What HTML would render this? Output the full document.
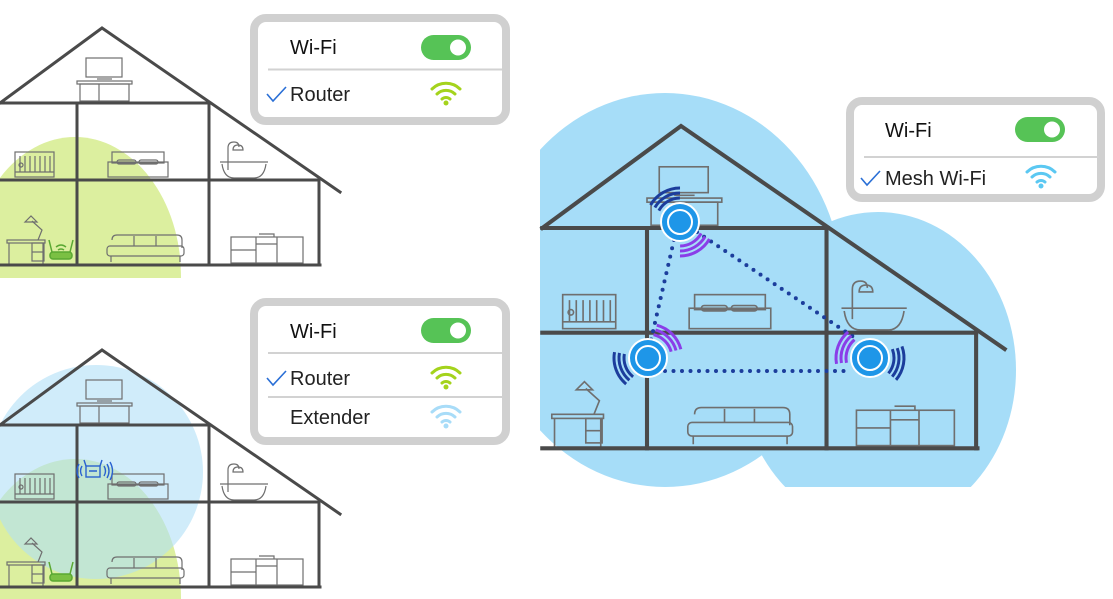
<!DOCTYPE html>
<html><head><meta charset="utf-8"><style>
html,body{margin:0;padding:0;background:#fff;width:1113px;height:599px;overflow:hidden;}
svg{display:block;overflow:hidden;font-family:"Liberation Sans","DejaVu Sans",sans-serif;}
</style></head><body>
<svg width="1113" height="599" viewBox="0 0 1113 599" xmlns="http://www.w3.org/2000/svg">
<defs>
  <clipPath id="c1"><rect x="0" y="0" width="400" height="278"/></clipPath>
  <clipPath id="c2"><rect x="0" y="300" width="400" height="299"/></clipPath>
  <clipPath id="c3"><rect x="540" y="0" width="573" height="487"/></clipPath>
  <g id="furn" fill="none" stroke="#6f6f6f" stroke-width="1.2">
    <rect x="86" y="58" width="36" height="19"/>
    <line x1="97" y1="79" x2="112" y2="79"/>
    <rect x="77" y="81" width="55" height="3"/>
    <rect x="80" y="84" width="49" height="17"/>
    <line x1="99" y1="84" x2="99" y2="101"/>
    <rect x="15" y="152" width="39" height="25"/>
    <path d="M20 156v16M25 156v16M30 156v16M35 156v16M40 156v16M45 156v16M50 156v16M15 172h39"/>
    <circle cx="21" cy="165" r="2"/>
    <rect x="112" y="152" width="52" height="11"/>
    <rect x="108" y="162" width="60" height="15"/>
    <rect x="117" y="160" width="19" height="4" rx="2"/>
    <rect x="139" y="160" width="19" height="4" rx="2"/>
    <path d="M220 162h48M222 164q2 14 12 14h20q10 0 12-14"/>
    <path d="M228 170v-22q0-6 6-6q5 0 5 5"/>
    <path d="M233 150h10q0-5-5-5q-5 0-5 5z"/>
    <rect x="7" y="240" width="38" height="3"/>
    <path d="M9 243v21M43 243v21"/>
    <rect x="32" y="243" width="12" height="18"/>
    <path d="M32 252h12"/>
    <path d="M38 240l4-10l-10-9"/>
    <path d="M25 222l6-6l6 6z"/>
    <path d="M112 240q0-5 5-5h60q5 0 5 5v8"/>
    <rect x="107" y="246" width="77" height="10" rx="3"/>
    <path d="M111 256v6M180 256v6M134 236v10M156 236v10"/>
    <rect x="231" y="237" width="72" height="26"/>
    <path d="M256 237v26M277 237v26M231 250h25M256 244h21M259 234h15v3"/>
  </g>
  <g id="house" fill="none" stroke="#4a4a4a" stroke-width="3" stroke-linecap="square">
    <path d="M0 103L102 28L340 192"/>
    <path d="M0 103H210"/>
    <path d="M0 180H319"/>
    <path d="M0 265H320"/>
    <path d="M77 103V265M209 103V265M319 180V265"/>
  </g>
</defs>

<g clip-path="url(#c1)">
  <ellipse cx="75" cy="276" rx="106" ry="139" fill="#dcef9f"/>
</g>
<use href="#furn"/>
<use href="#house"/>
<g fill="none" stroke="#5aa832" stroke-width="1.5">
  <rect x="50" y="252" width="22" height="7" rx="3" fill="#7bc043"/>
  <path d="M52 252l-3-12M70 252l3-12"/>
  <path d="M56 247q5-4 10 0M58 250q3-2 6 0"/>
</g>

<rect x="254" y="18" width="252" height="103" rx="12" fill="#fff" stroke="#d0d0d0" stroke-width="8"/>
<text x="290" y="54" font-size="20" fill="#111">Wi-Fi</text>
<rect x="421" y="35" width="50" height="25" rx="12.5" fill="#56c356"/>
<circle cx="458" cy="47.5" r="8" fill="#fff"/>
<line x1="268" y1="69.5" x2="502" y2="69.5" stroke="#d2d2d2" stroke-width="2"/>
<polyline points="267,94 273,101 286,87" fill="none" stroke="#2a6fd6" stroke-width="1.6"/>
<text x="290" y="101" font-size="20" fill="#222">Router</text>
<g fill="none" stroke="#a4d31c" stroke-width="3" stroke-linecap="round">
  <path d="M432 89a20 20 0 0 1 28 0"/>
  <path d="M437 94a13 13 0 0 1 18 0"/>
  <path d="M442 99a6 6 0 0 1 8 0"/>
</g>
<circle cx="446" cy="103" r="2.5" fill="#a4d31c"/>

<g clip-path="url(#c2)">
  <ellipse cx="75" cy="598" rx="106" ry="139" fill="#dcef9f"/>
</g>
<circle cx="96" cy="472" r="107" fill="rgb(177,223,247)" fill-opacity="0.6"/>
<g transform="translate(0,322)">
  <use href="#furn"/>
  <use href="#house"/>
  <g fill="none" stroke="#5aa832" stroke-width="1.5">
    <rect x="50" y="252" width="22" height="7" rx="3" fill="#7bc043"/>
    <path d="M52 252l-3-12M70 252l3-12"/>
  </g>
</g>
<g fill="none" stroke="#2a62d0" stroke-width="1.4">
  <rect x="86" y="466" width="14" height="11"/>
  <path d="M86 466l-2-6M100 466l2-6M89 471h8"/>
  <path d="M82 466q-3 5 0 10M79 464q-4 7 0 14M104 466q3 5 0 10M107 464q4 7 0 14M110 462q5 9 0 18"/>
</g>

<rect x="254" y="302" width="252" height="139" rx="12" fill="#fff" stroke="#d0d0d0" stroke-width="8"/>
<text x="290" y="338" font-size="20" fill="#111">Wi-Fi</text>
<rect x="421" y="318" width="50" height="25" rx="12.5" fill="#56c356"/>
<circle cx="458" cy="330.5" r="8" fill="#fff"/>
<line x1="268" y1="353" x2="502" y2="353" stroke="#d2d2d2" stroke-width="2"/>
<polyline points="267,378 273,385 286,371" fill="none" stroke="#2a6fd6" stroke-width="1.6"/>
<text x="290" y="385" font-size="20" fill="#222">Router</text>
<g fill="none" stroke="#a4d31c" stroke-width="3" stroke-linecap="round">
  <path d="M432 373a20 20 0 0 1 28 0"/>
  <path d="M437 378a13 13 0 0 1 18 0"/>
  <path d="M442 383a6 6 0 0 1 8 0"/>
</g>
<circle cx="446" cy="387" r="2.5" fill="#a4d31c"/>
<line x1="268" y1="397" x2="502" y2="397" stroke="#d2d2d2" stroke-width="2"/>
<text x="290" y="424" font-size="20" fill="#222">Extender</text>
<g fill="none" stroke="#a8dcf8" stroke-width="3" stroke-linecap="round">
  <path d="M432 412a20 20 0 0 1 28 0"/>
  <path d="M437 417a13 13 0 0 1 18 0"/>
  <path d="M442 422a6 6 0 0 1 8 0"/>
</g>
<circle cx="446" cy="426" r="2.5" fill="#a8dcf8"/>

<g clip-path="url(#c3)" fill="#a6ddf8">
  <ellipse cx="665" cy="290" rx="178" ry="197"/>
  <ellipse cx="878" cy="370" rx="138" ry="158"/>
</g>
<g transform="translate(681,126) scale(1.36) translate(-102,-28)">
  <use href="#furn"/>
  <use href="#house"/>
</g>

<g fill="none" stroke="#1c3d9c" stroke-width="4" stroke-linecap="round" stroke-dasharray="0 8.5">
  <path d="M674 240L651 340"/>
  <path d="M697 232L858 340"/>
  <path d="M665 371H852"/>
</g>

<g fill="none" stroke-width="3">
  <g stroke="#1c3d9c">
    <circle cx="680" cy="222" r="24" pathLength="360" stroke-dasharray="60 300" transform="rotate(-150 680 222)"/>
    <circle cx="680" cy="222" r="29" pathLength="360" stroke-dasharray="60 300" transform="rotate(-150 680 222)"/>
    <circle cx="680" cy="222" r="34" pathLength="360" stroke-dasharray="60 300" transform="rotate(-150 680 222)"/>
    <circle cx="648" cy="358" r="24" pathLength="360" stroke-dasharray="60 300" transform="rotate(130 648 358)"/>
    <circle cx="648" cy="358" r="29" pathLength="360" stroke-dasharray="60 300" transform="rotate(130 648 358)"/>
    <circle cx="648" cy="358" r="34" pathLength="360" stroke-dasharray="60 300" transform="rotate(130 648 358)"/>
    <circle cx="870" cy="358" r="24" pathLength="360" stroke-dasharray="60 300" transform="rotate(-20 870 358)"/>
    <circle cx="870" cy="358" r="29" pathLength="360" stroke-dasharray="60 300" transform="rotate(-20 870 358)"/>
    <circle cx="870" cy="358" r="34" pathLength="360" stroke-dasharray="60 300" transform="rotate(-20 870 358)"/>
  </g>
  <g stroke="#8a3ee8">
    <circle cx="680" cy="222" r="24" pathLength="360" stroke-dasharray="60 300" transform="rotate(30 680 222)"/>
    <circle cx="680" cy="222" r="29" pathLength="360" stroke-dasharray="60 300" transform="rotate(30 680 222)"/>
    <circle cx="680" cy="222" r="34" pathLength="360" stroke-dasharray="60 300" transform="rotate(30 680 222)"/>
    <circle cx="648" cy="358" r="24" pathLength="360" stroke-dasharray="60 300" transform="rotate(-75 648 358)"/>
    <circle cx="648" cy="358" r="29" pathLength="360" stroke-dasharray="60 300" transform="rotate(-75 648 358)"/>
    <circle cx="648" cy="358" r="34" pathLength="360" stroke-dasharray="60 300" transform="rotate(-75 648 358)"/>
    <circle cx="870" cy="358" r="24" pathLength="360" stroke-dasharray="60 300" transform="rotate(170 870 358)"/>
    <circle cx="870" cy="358" r="29" pathLength="360" stroke-dasharray="60 300" transform="rotate(170 870 358)"/>
    <circle cx="870" cy="358" r="34" pathLength="360" stroke-dasharray="60 300" transform="rotate(170 870 358)"/>
  </g>
</g>

<g>
  <circle cx="680" cy="222" r="19" fill="#1e96e8" stroke="#fff" stroke-width="2"/>
  <circle cx="680" cy="222" r="12" fill="none" stroke="#fff" stroke-width="2"/>
  <circle cx="648" cy="358" r="19" fill="#1e96e8" stroke="#fff" stroke-width="2"/>
  <circle cx="648" cy="358" r="12" fill="none" stroke="#fff" stroke-width="2"/>
  <circle cx="870" cy="358" r="19" fill="#1e96e8" stroke="#fff" stroke-width="2"/>
  <circle cx="870" cy="358" r="12" fill="none" stroke="#fff" stroke-width="2"/>
</g>

<rect x="850" y="101" width="251" height="97" rx="12" fill="#fff" stroke="#d0d0d0" stroke-width="8"/>
<text x="885" y="137" font-size="20" fill="#111">Wi-Fi</text>
<rect x="1015" y="117" width="50" height="25" rx="12.5" fill="#56c356"/>
<circle cx="1052" cy="129.5" r="8" fill="#fff"/>
<line x1="864" y1="157" x2="1099" y2="157" stroke="#d2d2d2" stroke-width="2"/>
<polyline points="861,178 867,185 880,171" fill="none" stroke="#2a6fd6" stroke-width="1.6"/>
<text x="885" y="185" font-size="20" fill="#222">Mesh Wi-Fi</text>
<g fill="none" stroke="#5bc8f2" stroke-width="3" stroke-linecap="round">
  <path d="M1027 172a20 20 0 0 1 28 0"/>
  <path d="M1032 177a13 13 0 0 1 18 0"/>
  <path d="M1037 182a6 6 0 0 1 8 0"/>
</g>
<circle cx="1041" cy="186" r="2.5" fill="#5bc8f2"/>
</svg>
</body></html>
